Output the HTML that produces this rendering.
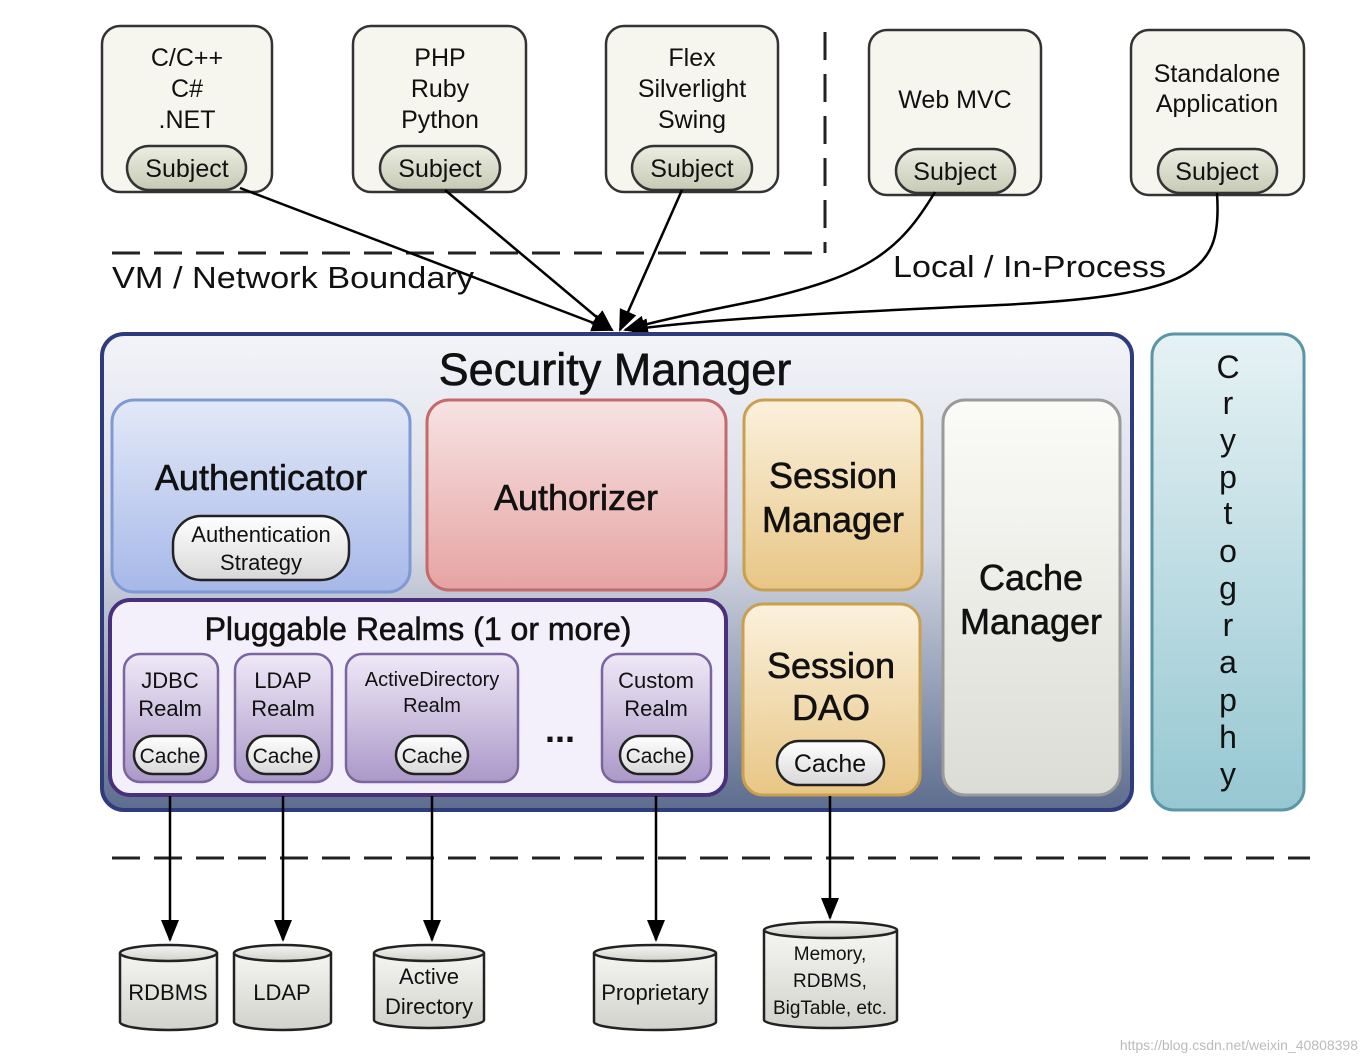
<!DOCTYPE html>
<html><head><meta charset="utf-8"><style>html,body{margin:0;padding:0;background:#fff}svg{display:block}text{font-family:"Liberation Sans",sans-serif;fill:#111}.b{stroke:#111;stroke-width:0.6}</style></head><body>
<svg width="1368" height="1062" viewBox="0 0 1368 1062" xmlns="http://www.w3.org/2000/svg">
<defs>
<linearGradient id="sm" x1="0" y1="0" x2="0" y2="1"><stop offset="0" stop-color="#f3f4f9"/><stop offset="0.45" stop-color="#d5d9e4"/><stop offset="1" stop-color="#5d6d8e"/></linearGradient>
<linearGradient id="au" x1="0" y1="0" x2="0" y2="1"><stop offset="0" stop-color="#e3e9f8"/><stop offset="1" stop-color="#a6b8e8"/></linearGradient>
<linearGradient id="az" x1="0" y1="0" x2="0" y2="1"><stop offset="0" stop-color="#f7e3e3"/><stop offset="1" stop-color="#e6a3a3"/></linearGradient>
<linearGradient id="se" x1="0" y1="0" x2="0" y2="1"><stop offset="0" stop-color="#fbf1dd"/><stop offset="1" stop-color="#e8c685"/></linearGradient>
<linearGradient id="cm" x1="0" y1="0" x2="0" y2="1"><stop offset="0" stop-color="#fbfbf8"/><stop offset="1" stop-color="#dcdcd6"/></linearGradient>
<linearGradient id="rl" x1="0" y1="0" x2="0" y2="1"><stop offset="0" stop-color="#efe9f7"/><stop offset="1" stop-color="#ab98c8"/></linearGradient>
<linearGradient id="cr" x1="0" y1="0" x2="0" y2="1"><stop offset="0" stop-color="#e6f2f4"/><stop offset="1" stop-color="#96c7d2"/></linearGradient>
<linearGradient id="pill" x1="0" y1="0" x2="0" y2="1"><stop offset="0" stop-color="#eceee2"/><stop offset="1" stop-color="#c6cab4"/></linearGradient>
<linearGradient id="wp" x1="0" y1="0" x2="0" y2="1"><stop offset="0" stop-color="#ffffff"/><stop offset="1" stop-color="#d8d8d8"/></linearGradient>
<linearGradient id="cy" x1="0" y1="0" x2="0" y2="1"><stop offset="0" stop-color="#f5f5f2"/><stop offset="1" stop-color="#d2d2cc"/></linearGradient>
<marker id="ab" markerWidth="22" markerHeight="22" refX="20" refY="11" orient="auto" markerUnits="userSpaceOnUse" viewBox="0 0 22 22"><path d="M0,2 L22,11 L0,20 z" fill="#000"/></marker>
</defs>

<g stroke="#333" stroke-width="2.5">
<rect x="102" y="26" width="170" height="166" rx="18" fill="#f6f5ee"/>
<rect x="353" y="26" width="173" height="166" rx="18" fill="#f6f5ee"/>
<rect x="606" y="26" width="172" height="166" rx="18" fill="#f6f5ee"/>
<rect x="869" y="30" width="172" height="165" rx="18" fill="#f6f5ee"/>
<rect x="1131" y="30" width="173" height="165" rx="18" fill="#f6f5ee"/>
<rect x="127" y="146" width="119" height="44" rx="22" fill="url(#pill)"/>
<rect x="380" y="146" width="120" height="44" rx="22" fill="url(#pill)"/>
<rect x="632" y="146" width="120" height="44" rx="22" fill="url(#pill)"/>
<rect x="896" y="149" width="119" height="44" rx="22" fill="url(#pill)"/>
<rect x="1158" y="149" width="119" height="44" rx="22" fill="url(#pill)"/>
</g>
<g font-size="25" text-anchor="middle">
<text x="187" y="66">C/C++</text><text x="187" y="97">C#</text><text x="187" y="128">.NET</text>
<text x="440" y="66">PHP</text><text x="440" y="97">Ruby</text><text x="440" y="128">Python</text>
<text x="692" y="66">Flex</text><text x="692" y="97">Silverlight</text><text x="692" y="128">Swing</text>
<text x="955" y="108">Web MVC</text>
<text x="1217" y="82">Standalone</text><text x="1217" y="112">Application</text>
<text x="187" y="177">Subject</text><text x="440" y="177">Subject</text><text x="692" y="177">Subject</text><text x="955" y="180">Subject</text><text x="1217" y="180">Subject</text>
</g>

<g stroke="#222" stroke-width="3" stroke-dasharray="28,14" fill="none">
<path d="M112,253 H825"/><path d="M825,32 V253"/>
<path d="M112,858 H1310"/>
</g>
<text x="112" y="288" font-size="31" textLength="362" lengthAdjust="spacingAndGlyphs">VM / Network Boundary</text>
<text x="893" y="277" font-size="31" textLength="273" lengthAdjust="spacingAndGlyphs">Local / In-Process</text>

<g stroke="#000" stroke-width="2.5" fill="none">
<path d="M240,188 L612,330" marker-end="url(#ab)"/>
<path d="M445,190 L612,330" marker-end="url(#ab)"/>
<path d="M682,190 L620,330" marker-end="url(#ab)"/>
<path d="M935,192 C900,250 870,275 760,300 C700,312 660,320 625,330" marker-end="url(#ab)"/>
<path d="M1217,193 C1222,270 1200,295 1000,305 C800,314 700,320 628,330" marker-end="url(#ab)"/>
</g>

<rect x="102" y="334" width="1030" height="476" rx="22" fill="url(#sm)" stroke="#2e3b7c" stroke-width="4"/>
<text class="b" x="615" y="385" font-size="45" text-anchor="middle">Security Manager</text>

<rect x="112" y="400" width="298" height="192" rx="22" fill="url(#au)" stroke="#7f99d5" stroke-width="3"/>
<text class="b" x="261" y="490" font-size="36" text-anchor="middle">Authenticator</text>
<rect x="173" y="516" width="176" height="64" rx="28" fill="url(#wp)" stroke="#222" stroke-width="2.5"/>
<text x="261" y="542" font-size="22" text-anchor="middle">Authentication</text>
<text x="261" y="570" font-size="22" text-anchor="middle">Strategy</text>

<rect x="427" y="400" width="299" height="190" rx="22" fill="url(#az)" stroke="#c46a6a" stroke-width="3"/>
<text class="b" x="576" y="510" font-size="36" text-anchor="middle">Authorizer</text>

<rect x="744" y="400" width="178" height="190" rx="20" fill="url(#se)" stroke="#c9a050" stroke-width="3"/>
<text class="b" x="833" y="488" font-size="36" text-anchor="middle">Session</text>
<text class="b" x="833" y="532" font-size="36" text-anchor="middle">Manager</text>

<rect x="943" y="400" width="177" height="395" rx="22" fill="url(#cm)" stroke="#9a9a9a" stroke-width="3"/>
<text class="b" x="1031" y="590" font-size="36" text-anchor="middle">Cache</text>
<text class="b" x="1031" y="634" font-size="36" text-anchor="middle">Manager</text>

<rect x="743" y="604" width="177" height="191" rx="20" fill="url(#se)" stroke="#c9a050" stroke-width="3"/>
<text class="b" x="831" y="678" font-size="36" text-anchor="middle">Session</text>
<text class="b" x="831" y="720" font-size="36" text-anchor="middle">DAO</text>
<rect x="777" y="741" width="107" height="44" rx="22" fill="url(#wp)" stroke="#222" stroke-width="2.5"/>
<text x="830" y="772" font-size="25" text-anchor="middle">Cache</text>

<rect x="110" y="600" width="616" height="195" rx="20" fill="#f4f0fb" stroke="#4a2f7a" stroke-width="4"/>
<text class="b" x="418" y="640" font-size="32" text-anchor="middle">Pluggable Realms (1 or more)</text>
<g stroke="#7a65a0" stroke-width="2.5" fill="url(#rl)">
<rect x="124" y="654" width="94" height="128" rx="16"/>
<rect x="235" y="654" width="97" height="128" rx="16"/>
<rect x="346" y="654" width="172" height="128" rx="16"/>
<rect x="602" y="654" width="109" height="128" rx="16"/>
</g>
<g font-size="22" text-anchor="middle">
<text x="170" y="688">JDBC</text><text x="170" y="716">Realm</text>
<text x="283" y="688">LDAP</text><text x="283" y="716">Realm</text>
<text x="432" y="686" font-size="20">ActiveDirectory</text><text x="432" y="712" font-size="20">Realm</text>
<text x="656" y="688">Custom</text><text x="656" y="716">Realm</text>
</g>
<g stroke="#222" stroke-width="2.5" fill="url(#wp)">
<rect x="134" y="736" width="72" height="38" rx="19"/>
<rect x="247" y="736" width="72" height="38" rx="19"/>
<rect x="396" y="736" width="72" height="38" rx="19"/>
<rect x="620" y="736" width="72" height="38" rx="19"/>
</g>
<g font-size="21" text-anchor="middle">
<text x="170" y="763">Cache</text><text x="283" y="763">Cache</text><text x="432" y="763">Cache</text><text x="656" y="763">Cache</text>
</g>
<text x="560" y="742" font-size="36" text-anchor="middle" font-weight="bold">...</text>

<rect x="1152" y="334" width="152" height="476" rx="22" fill="url(#cr)" stroke="#5a97a6" stroke-width="3"/>
<g font-size="32" text-anchor="middle">
<text x="1228" y="378">C</text><text x="1228" y="414">r</text><text x="1228" y="451">y</text><text x="1228" y="488">p</text><text x="1228" y="524">t</text><text x="1228" y="562">o</text><text x="1228" y="599">g</text><text x="1228" y="636">r</text><text x="1228" y="673">a</text><text x="1228" y="711">p</text><text x="1228" y="748">h</text><text x="1228" y="785">y</text>
</g>

<g stroke="#000" stroke-width="2.5">
<path d="M170,796 V940" marker-end="url(#ab)"/>
<path d="M283,796 V940" marker-end="url(#ab)"/>
<path d="M432,796 V940" marker-end="url(#ab)"/>
<path d="M656,796 V940" marker-end="url(#ab)"/>
<path d="M830,796 V918" marker-end="url(#ab)"/>
</g>

<g stroke="#222" stroke-width="2.5" fill="url(#cy)">
<path d="M120,953 V1022 A48.5,8 0 0 0 217,1022 V953"/><ellipse cx="168.5" cy="953" rx="48.5" ry="8"/>
<path d="M234,953 V1022 A48.5,8 0 0 0 331,1022 V953"/><ellipse cx="282.5" cy="953" rx="48.5" ry="8"/>
<path d="M374,953 V1020 A55,8 0 0 0 484,1020 V953"/><ellipse cx="429" cy="953" rx="55" ry="8"/>
<path d="M594,953 V1022 A61,8 0 0 0 716,1022 V953"/><ellipse cx="655" cy="953" rx="61" ry="8"/>
<path d="M764,930 V1020 A66.5,8 0 0 0 897,1020 V930"/><ellipse cx="830.5" cy="930" rx="66.5" ry="8"/>
</g>
<g font-size="22" text-anchor="middle">
<text x="168" y="1000">RDBMS</text>
<text x="282" y="1000">LDAP</text>
<text x="429" y="984">Active</text><text x="429" y="1014">Directory</text>
<text x="655" y="1000">Proprietary</text>
<text x="830" y="960" font-size="19">Memory,</text><text x="830" y="987" font-size="19">RDBMS,</text><text x="830" y="1014" font-size="19">BigTable, etc.</text>
</g>
<text x="1358" y="1050" font-size="14" text-anchor="end" style="fill:#bbb">https://blog.csdn.net/weixin_40808398</text>
</svg>
</body></html>
